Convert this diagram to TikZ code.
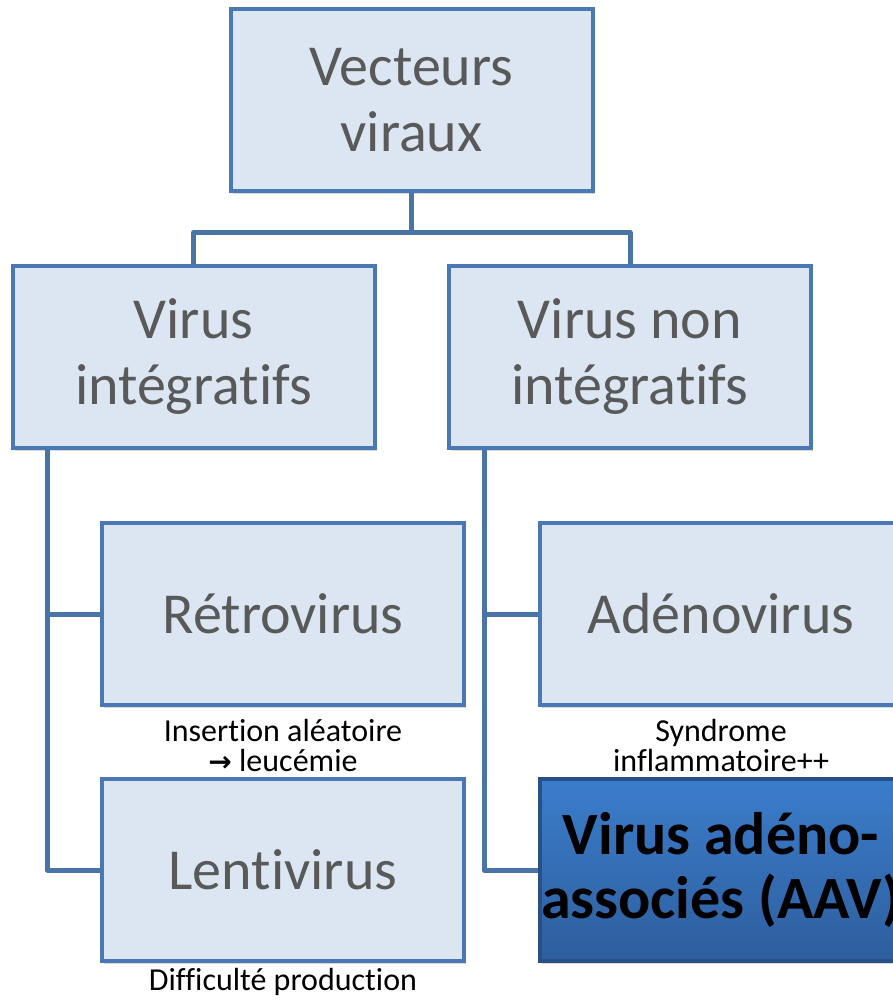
\documentclass[tikz,border=0pt]{standalone}
\usepackage{fontspec}
\setmainfont{Carlito}[Ligatures={NoCommon}]
\newfontfamily\arrowfont{DejaVu Sans}
\usetikzlibrary{positioning,shadows}

\definecolor{boxfill}{HTML}{DCE6F2}
\definecolor{boxline}{HTML}{4A78B4}
\definecolor{linkcol}{HTML}{4A74A8}
\definecolor{boxtext}{HTML}{595959}
\definecolor{aavtop}{HTML}{3B7DCB}
\definecolor{aavbot}{HTML}{2E5E9E}

\tikzset{
  vbox/.style={draw=boxline, fill=boxfill, line width=4pt,
    minimum width=362pt, minimum height=182pt, inner sep=0pt,
    align=center, text=boxtext, font=\fontsize{58}{66}\selectfont,
    drop shadow={opacity=0.3, shadow xshift=2pt, shadow yshift=-3pt}},
  aavbox/.style={vbox, top color=aavtop, bottom color=aavbot,
    draw=aavbot!85!black, text=black, font=\bfseries\fontsize{60}{64}\selectfont},
  link/.style={draw=linkcol, line width=5pt, line join=round},
  note/.style={align=center, font=\fontsize{32}{30}\selectfont, inner sep=0pt}
}

\begin{document}
\begin{tikzpicture}[x=1pt,y=-1pt]
  \useasboundingbox (0,0) rectangle (893,1000);
  \clip (0,0) rectangle (893,1000);
  % boxes
  \node[vbox] (vect) at (411.5,100.5) {Vecteurs\\viraux};
  \node[vbox] (integ) at (193.5,357) {Virus\\intégratifs};
  \node[vbox] (noninteg) at (630,357) {Virus non\\intégratifs};
  \node[vbox] (retro) at (283,614) {Rétrovirus};
  \node[vbox] (lenti) at (283,870) {Lentivirus};
  \node[vbox] (adeno) at (721,614) {Adénovirus};
  \node[aavbox] (aav) at (721,870) {Virus adéno-\\associés (AAV)};
  % tree links
  \draw[link] (vect.south) -- ++(0,39) -| (integ.north);
  \draw[link] (vect.south) -- ++(0,39) -| (noninteg.north);
  \draw[link] ([xshift=37pt]integ.south west) |- (retro.west);
  \draw[link] ([xshift=37pt]integ.south west) |- (lenti.west);
  \draw[link] ([xshift=37pt]noninteg.south west) |- (adeno.west);
  \draw[link] ([xshift=37pt]noninteg.south west) |- (aav.west);
  % notes
  \node[note, below=12pt of retro] (retronote) {Insertion aléatoire\\{\arrowfont\bfseries\fontsize{28}{30}\selectfont→} leucémie};
  \node[note, below=12pt of adeno] (adenonote) {Syndrome\\inflammatoire++};
  \node[note, below=5pt of lenti] (lentinote) {Difficulté production};
\end{tikzpicture}
\end{document}
